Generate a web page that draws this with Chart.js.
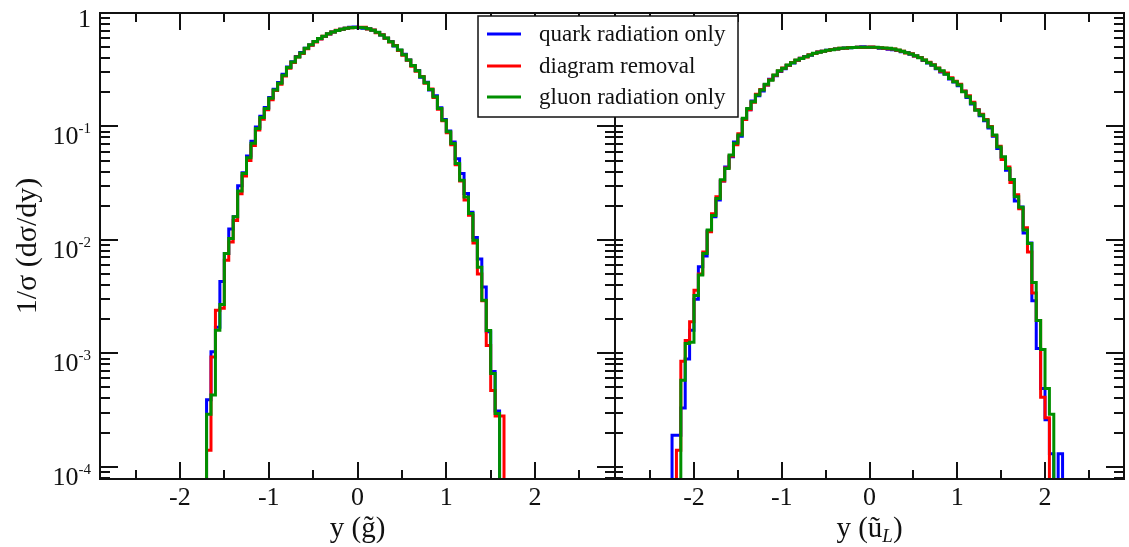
<!DOCTYPE html>
<html>
<head>
<meta charset="utf-8">
<title>Rapidity distributions</title>
<script src="https://cdn.jsdelivr.net/npm/chart.js@4.4.1/dist/chart.umd.min.js"></script>
<style>
  html, body { margin: 0; padding: 0; background: #fff; }
  #wrap { position: relative; width: 1129px; height: 547px; }
  #wrap canvas { position: absolute; left: 0; top: 0; }
</style>
</head>
<body>
<div id="wrap">
  <canvas id="gluinoChart" width="1129" height="547"></canvas>
  <canvas id="squarkChart" width="1129" height="547"></canvas>
</div>
<script>
// Normalised rapidity distributions 1/sigma dsigma/dy, 0.05-wide bins, log scale
const BIN_WIDTH = 0.05;
const X_MIN = -2.9, X_MAX = 2.9;
const Y_MIN = 7.8e-5, Y_MAX = 1;
const FLOOR = 1e-7; // empty bins fall below the axis

const SERIF = "'Liberation Serif', 'DejaVu Serif', serif";

const seriesNames = ['quark radiation only', 'diagram removal', 'gluon radiation only'];
const seriesColors = ['#0000ff', '#ff0000', '#008f00'];

const xMajorTicks = [-2, -1, 0, 1, 2];
const xMinorTicks = [-2.5, -1.5, -0.5, 0.5, 1.5, 2.5];
const yDecades = [1, 1e-1, 1e-2, 1e-3, 1e-4];
const yDecadeExp = [0, -1, -2, -3, -4];

// ── gluino panel: lower edge of first bin, then one value per bin ──
const gluinoQuarkStart = -1.70;
const gluinoQuark = [
  3.9e-4, 1.03e-3, 1.7e-3, 4.3e-3, 7.6e-3, 1.25e-2, 1.6e-2, 3.0e-2, 3.9e-2, 5.5e-2,
  7.4e-2, 0.099, 0.123, 0.147, 0.18, 0.213, 0.244, 0.288, 0.335, 0.372,
  0.414, 0.448, 0.488, 0.522, 0.561, 0.594, 0.622, 0.652, 0.679, 0.70,
  0.72, 0.735, 0.748, 0.752,
  0.742, 0.735, 0.728, 0.705, 0.672, 0.64, 0.598, 0.562, 0.512, 0.47,
  0.432, 0.386, 0.344, 0.312, 0.272, 0.245, 0.21, 0.186, 0.146, 0.115,
  0.091, 0.073, 0.052, 0.0385, 0.0256, 0.0175, 0.0105, 0.0068, 0.00385, 0.00155,
  0.00069, 0.00031
];
const gluinoRemovalStart = -1.70;
const gluinoRemoval = [
  1.4e-4, 9.3e-4, 2.4e-3, 2.5e-3, 6.6e-3, 9.6e-3, 1.48e-2, 2.55e-2, 3.65e-2, 5.0e-2,
  6.8e-2, 0.093, 0.116, 0.14, 0.172, 0.207, 0.236, 0.278, 0.326, 0.366,
  0.41, 0.44, 0.485, 0.52, 0.556, 0.59, 0.624, 0.652, 0.68, 0.704,
  0.718, 0.734, 0.742, 0.745,
  0.75, 0.748, 0.722, 0.708, 0.67, 0.642, 0.6, 0.555, 0.518, 0.468,
  0.425, 0.383, 0.34, 0.306, 0.276, 0.24, 0.214, 0.18, 0.142, 0.112,
  0.088, 0.069, 0.046, 0.033, 0.0225, 0.0165, 0.0094, 0.0050, 0.0029, 0.00117,
  0.00047, 0.00028, 0.00028
];
const gluinoGluonStart = -1.70;
const gluinoGluon = [
  2.9e-4, 4.3e-4, 1.6e-3, 2.7e-3, 7.6e-3, 1.03e-2, 1.6e-2, 2.7e-2, 3.85e-2, 5.3e-2,
  7.1e-2, 0.096, 0.12, 0.144, 0.177, 0.21, 0.24, 0.283, 0.33, 0.37,
  0.41, 0.445, 0.49, 0.525, 0.56, 0.595, 0.625, 0.655, 0.68, 0.70,
  0.72, 0.733, 0.742, 0.746,
  0.745, 0.742, 0.727, 0.703, 0.675, 0.639, 0.602, 0.558, 0.515, 0.472,
  0.429, 0.385, 0.345, 0.31, 0.274, 0.243, 0.212, 0.183, 0.144, 0.1136,
  0.0897, 0.0707, 0.0471, 0.0336, 0.0239, 0.0171, 0.00992, 0.00573, 0.00293, 0.00159,
  0.000665, 0.000295
];

// ── squark (u_L) panel ──
const squarkQuarkStart = -2.25;
const squarkQuark = [
  1.9e-4, 1.9e-4, 3.3e-4, 8.9e-4, 1.6e-3, 3.0e-3, 5.8e-3, 7.2e-3, 1.2e-2, 1.6e-2,
  2.25e-2, 3.3e-2, 4.4e-2, 5.4e-2, 7.3e-2, 8.2e-2, 0.115, 0.14, 0.168, 0.186,
  0.205, 0.232, 0.26, 0.28, 0.305, 0.322, 0.345, 0.362, 0.382, 0.40,
  0.413, 0.424, 0.44, 0.452, 0.46, 0.47, 0.476, 0.482, 0.487, 0.492,
  0.495, 0.496, 0.50, 0.503, 0.499,
  0.50, 0.496, 0.49, 0.486, 0.48, 0.475, 0.468, 0.455, 0.448, 0.432,
  0.418, 0.405, 0.382, 0.362, 0.346, 0.322, 0.302, 0.29, 0.262, 0.246,
  0.228, 0.204, 0.18, 0.158, 0.14, 0.124, 0.112, 0.097, 0.082, 0.064,
  0.053, 0.041, 0.034, 0.022, 0.0195, 0.0115, 0.0094, 0.0029, 0.0011, 0.00049,
  0.00026, 0.00013, 0, 0.00013
];
const squarkRemovalStart = -2.20;
const squarkRemoval = [
  1.4e-4, 8.5e-4, 1.3e-3, 1.9e-3, 3.6e-3, 5.0e-3, 7.8e-3, 1.18e-2, 1.7e-2, 2.4e-2,
  3.3e-2, 4.3e-2, 5.5e-2, 6.9e-2, 8.6e-2, 0.115, 0.14, 0.163, 0.192, 0.212,
  0.232, 0.258, 0.282, 0.308, 0.328, 0.346, 0.366, 0.384, 0.40, 0.41,
  0.428, 0.44, 0.452, 0.46, 0.468, 0.477, 0.482, 0.489, 0.49, 0.496,
  0.497, 0.5, 0.497, 0.498,
  0.502, 0.497, 0.495, 0.49, 0.485, 0.482, 0.47, 0.46, 0.443, 0.437,
  0.418, 0.405, 0.386, 0.368, 0.35, 0.328, 0.306, 0.296, 0.268, 0.25,
  0.236, 0.205, 0.186, 0.163, 0.14, 0.128, 0.115, 0.10, 0.083, 0.067,
  0.051, 0.044, 0.032, 0.025, 0.0188, 0.0128, 0.0078, 0.0034, 0.00195, 0.00041,
  0.00027
];
const squarkGluonStart = -2.15;
const squarkGluon = [
  5.8e-4, 1.22e-3, 1.25e-3, 3.24e-3, 4.9e-3, 7.6e-3, 1.22e-2, 1.64e-2, 2.32e-2, 3.39e-2,
  4.25e-2, 5.6e-2, 7.1e-2, 8.4e-2, 0.118, 0.144, 0.165, 0.189, 0.209, 0.236,
  0.256, 0.284, 0.31, 0.325, 0.348, 0.365, 0.385, 0.398, 0.411, 0.426,
  0.441, 0.45, 0.459, 0.469, 0.475, 0.481, 0.488, 0.491, 0.494, 0.497,
  0.498, 0.499, 0.499,
  0.498, 0.498, 0.494, 0.491, 0.488, 0.481, 0.472, 0.459, 0.446, 0.435,
  0.42, 0.403, 0.385, 0.365, 0.348, 0.325, 0.31, 0.288, 0.265, 0.248,
  0.232, 0.202, 0.183, 0.16, 0.139, 0.126, 0.114, 0.099, 0.084, 0.066,
  0.054, 0.0425, 0.034, 0.024, 0.0194, 0.0122, 0.0093, 0.0042, 0.00195, 0.00108,
  0.00049, 0.00029
];

// step outline: rise at the first edge, one point per bin, fall after the last edge
function histPoints(start, values) {
  const pts = [{ x: start, y: FLOOR }];
  values.forEach((v, i) => {
    pts.push({ x: +(start + i * BIN_WIDTH).toFixed(2), y: v > 0 ? v : FLOOR });
  });
  pts.push({ x: +(start + values.length * BIN_WIDTH).toFixed(2), y: FLOOR });
  return pts;
}

function histDatasets(series) {
  return series.map(([start, values], i) => ({
    label: seriesNames[i],
    data: histPoints(start, values),
    borderColor: seriesColors[i],
    borderWidth: 3,
    pointRadius: 0,
    stepped: true,
    fill: false,
    tension: 0,
    clip: 0,
    order: series.length - i, // gluon on top
  }));
}

// frame + inward ticks on all four sides
const framePlugin = {
  id: 'frame',
  afterDatasetsDraw(chart, args, opts) {
    const { ctx, chartArea: a, scales: { x, y } } = chart;
    ctx.save();
    ctx.strokeStyle = '#111';
    ctx.lineWidth = 2;
    ctx.strokeRect(a.left, a.top, a.right - a.left, a.bottom - a.top);
    ctx.beginPath();
    const xTick = (v, len) => {
      const px = Math.round(x.getPixelForValue(v));
      ctx.moveTo(px, a.bottom); ctx.lineTo(px, a.bottom - len);
      ctx.moveTo(px, a.top); ctx.lineTo(px, a.top + len);
    };
    xMajorTicks.forEach(v => xTick(v, 17));
    xMinorTicks.forEach(v => xTick(v, 9));
    const yTick = (v, major) => {
      const py = Math.round(y.getPixelForValue(v));
      const l = major ? opts.leftMajor : opts.leftMinor;
      const r = major ? opts.rightMajor : opts.rightMinor;
      ctx.moveTo(a.left, py); ctx.lineTo(a.left + l, py);
      ctx.moveTo(a.right, py); ctx.lineTo(a.right - r, py);
    };
    yDecades.forEach(d => {
      yTick(d, true);
      for (let k = 2; k <= 9; k++) {
        const v = d * k / 10;
        if (v >= Y_MIN) yTick(v, false);
      }
    });
    ctx.stroke();
    ctx.restore();
  }
};

// decade labels 1, 10^-1 ... with raised exponents
const yLabelPlugin = {
  id: 'yLabels',
  afterDraw(chart) {
    const { ctx, chartArea: a, scales: { y } } = chart;
    const right = a.left - 9;
    ctx.save();
    ctx.fillStyle = '#111';
    ctx.textBaseline = 'alphabetic';
    yDecades.forEach((d, i) => {
      const py = y.getPixelForValue(d);
      if (yDecadeExp[i] === 0) {
        ctx.font = `26px ${SERIF}`;
        ctx.textAlign = 'right';
        ctx.fillText('1', right, py + 14);
        return;
      }
      const sup = String(yDecadeExp[i]);
      ctx.font = `15px ${SERIF}`;
      const supW = ctx.measureText(sup).width;
      ctx.textAlign = 'left';
      ctx.fillText(sup, right - supW, py + 7);
      ctx.font = `26px ${SERIF}`;
      ctx.textAlign = 'right';
      ctx.fillText('10', right - supW, py + 18);
    });
    // y title, rotated
    ctx.translate(28, (a.top + a.bottom) / 2);
    ctx.rotate(-Math.PI / 2);
    ctx.font = `30px ${SERIF}`;
    ctx.textAlign = 'center';
    ctx.textBaseline = 'middle';
    ctx.fillText('1/\u03c3 (d\u03c3/dy)', 0, 0);
    ctx.restore();
  }
};

// x title drawn from pieces so the subscript can drop
const xTitlePlugin = {
  id: 'xTitle',
  afterDraw(chart, args, opts) {
    const { ctx, chartArea: a } = chart;
    const base = 537;
    ctx.save();
    ctx.fillStyle = '#111';
    ctx.textBaseline = 'alphabetic';
    ctx.textAlign = 'left';
    const parts = opts.parts.map(p => {
      ctx.font = p.font;
      return { ...p, w: ctx.measureText(p.text).width };
    });
    const total = parts.reduce((s, p) => s + p.w, 0);
    let cx = (a.left + a.right) / 2 - total / 2;
    parts.forEach(p => {
      ctx.font = p.font;
      ctx.fillText(p.text, cx, base + (p.dy || 0));
      cx += p.w;
    });
    ctx.restore();
  }
};

const legendPlugin = {
  id: 'boxLegend',
  afterDraw(chart) {
    const { ctx } = chart;
    const box = { x: 478, y: 16, w: 260, h: 101 };
    const rows = [34, 66, 97];
    ctx.save();
    ctx.fillStyle = '#fff';
    ctx.fillRect(box.x, box.y, box.w, box.h);
    ctx.strokeStyle = '#111';
    ctx.lineWidth = 1.5;
    ctx.strokeRect(box.x, box.y, box.w, box.h);
    ctx.font = `23px ${SERIF}`;
    ctx.textBaseline = 'middle';
    ctx.textAlign = 'left';
    seriesNames.forEach((name, i) => {
      ctx.strokeStyle = seriesColors[i];
      ctx.lineWidth = 3;
      ctx.beginPath();
      ctx.moveTo(487, rows[i]);
      ctx.lineTo(521, rows[i]);
      ctx.stroke();
      ctx.fillStyle = '#111';
      ctx.fillText(name, 539, rows[i] + 1);
    });
    ctx.restore();
  }
};

function panelOptions(padding, frame, titleParts) {
  return {
    responsive: false,
    animation: false,
    devicePixelRatio: 1,
    events: [],
    layout: { padding },
    plugins: {
      legend: { display: false },
      tooltip: { enabled: false },
      frame,
      xTitle: { parts: titleParts },
    },
    scales: {
      x: {
        type: 'linear',
        min: X_MIN,
        max: X_MAX,
        afterBuildTicks: (s) => { s.ticks = xMajorTicks.map(v => ({ value: v })); },
        afterFit: (s) => { s.height = 68; },
        grid: { display: false, drawTicks: false },
        border: { display: false },
        ticks: {
          color: '#111',
          font: { family: SERIF, size: 26 },
          padding: 4,
          maxRotation: 0,
          autoSkip: false,
        },
      },
      y: {
        type: 'logarithmic',
        min: Y_MIN,
        max: Y_MAX,
        display: false,
      },
    },
  };
}

const TITLE = `29px ${SERIF}`;

// ── left panel: gluino ──
new Chart(document.getElementById('gluinoChart'), {
  type: 'line',
  data: {
    datasets: histDatasets([
      [gluinoQuarkStart, gluinoQuark],
      [gluinoRemovalStart, gluinoRemoval],
      [gluinoGluonStart, gluinoGluon],
    ]),
  },
  options: panelOptions(
    { left: 100, right: 514, top: 13, bottom: 0 },
    { leftMajor: 18, leftMinor: 10, rightMajor: 18, rightMinor: 10 },
    [{ text: 'y (', font: TITLE }, { text: 'g\u0303', font: TITLE }, { text: ')', font: TITLE }]
  ),
  plugins: [framePlugin, yLabelPlugin, xTitlePlugin],
});

// ── right panel: squark ──
new Chart(document.getElementById('squarkChart'), {
  type: 'line',
  data: {
    datasets: histDatasets([
      [squarkQuarkStart, squarkQuark],
      [squarkRemovalStart, squarkRemoval],
      [squarkGluonStart, squarkGluon],
    ]),
  },
  options: panelOptions(
    { left: 615, right: 5, top: 13, bottom: 0 },
    { leftMajor: 8, leftMinor: 8, rightMajor: 18, rightMinor: 10 },
    [
      { text: 'y (\u0169', font: TITLE },
      { text: 'L', font: `italic 19px ${SERIF}`, dy: 5 },
      { text: ')', font: TITLE },
    ]
  ),
  plugins: [framePlugin, xTitlePlugin, legendPlugin],
});
</script>
</body>
</html>
